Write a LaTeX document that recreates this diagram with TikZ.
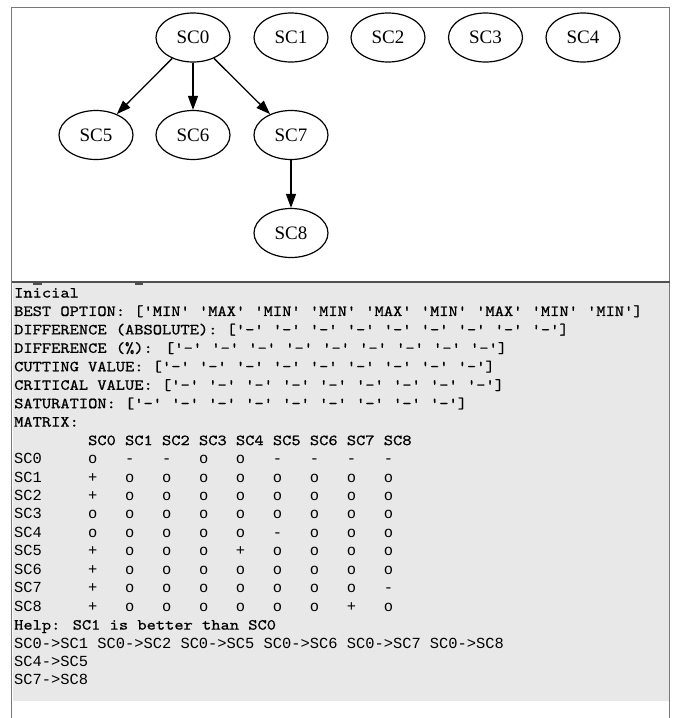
\documentclass[tikz,border=0pt]{standalone}
\usepackage{fontspec}
\setmainfont{Liberation Serif}
\setmonofont{Liberation Mono}
\newfontfamily\slabmono{lmmono10-regular}[Extension=.otf, FakeStretch=1.143, FakeBold=0.8]
\usetikzlibrary{shapes.geometric,arrows.meta}

\definecolor{panelgrey}{RGB}{232,232,232}
\definecolor{framegrey}{RGB}{120,120,120}
\definecolor{rulegrey}{RGB}{80,80,80}

\tikzset{
  sc/.style={ellipse, draw=black, line width=1.2pt, minimum width=74pt,
    minimum height=49pt, inner sep=0pt,
    font=\fontsize{19}{22}\selectfont},
  edge/.style={line width=1.3pt, -{Triangle[length=14pt,width=10pt]}},
  txt/.style={anchor=base west, inner sep=0pt, text=black,
    font=\slabmono\fontsize{15.4}{18.45}\selectfont},
  rowtxt/.style={txt, font=\ttfamily\fontsize{15.4}{18.45}\selectfont},
}

\begin{document}
\begin{tikzpicture}[x=1pt,y=-1pt]
\useasboundingbox (0,0) rectangle (675,718);
\fill[white] (0,0) rectangle (675,718);

% console panel
\fill[panelgrey] (12.5,282.5) rectangle (669,700.5);
\fill[rulegrey] (33,282.6) rectangle (42,284.6);
\fill[rulegrey] (135,282.6) rectangle (143,284.6);

% window frame
\draw[framegrey, line width=1.8pt] (11.5,718) -- (11.5,7.5) -- (669.5,7.5) -- (669.5,718);
\draw[rulegrey, line width=1.5pt] (11.5,282) -- (669.5,282);

% graph
\node[sc] (sc0) at (193,37.5) {SC0};
\node[sc] (sc1) at (291,37.5) {SC1};
\node[sc] (sc2) at (388,37.5) {SC2};
\node[sc] (sc3) at (485.5,37.5) {SC3};
\node[sc] (sc4) at (583,37.5) {SC4};
\node[sc] (sc5) at (96,135) {SC5};
\node[sc] (sc6) at (193,135) {SC6};
\node[sc] (sc7) at (291,135) {SC7};
\node[sc] (sc8) at (291,233) {SC8};

\draw[edge] (sc0) -- (sc5);
\draw[edge] (sc0) -- (sc6);
\draw[edge] (sc0) -- (sc7);
\draw[edge] (sc7) -- (sc8);

% console output
\node[txt] (l0) at (14,297.5) {Inicial};
\node[txt] (l1) at (14,315.95) {BEST OPTION: ['MIN' 'MAX' 'MIN' 'MIN' 'MAX' 'MIN' 'MAX' 'MIN' 'MIN']};
\node[txt] (l2) at (14,334.4) {DIFFERENCE (ABSOLUTE): ['-' '-' '-' '-' '-' '-' '-' '-' '-']};
\node[txt] (l3) at (14,352.85) {DIFFERENCE (\%): ['-' '-' '-' '-' '-' '-' '-' '-' '-']};
\node[txt] (l4) at (14,371.3) {CUTTING VALUE: ['-' '-' '-' '-' '-' '-' '-' '-' '-']};
\node[txt] (l5) at (14,389.75) {CRITICAL VALUE: ['-' '-' '-' '-' '-' '-' '-' '-' '-']};
\node[txt] (l6) at (14,408.2) {SATURATION: ['-' '-' '-' '-' '-' '-' '-' '-' '-']};
\node[txt] (l7) at (14,426.65) {MATRIX:};
\node[txt] (l8) at (14,445.1) {~~~~~~~~SC0 SC1 SC2 SC3 SC4 SC5 SC6 SC7 SC8};
\node[rowtxt] (l9) at (14,463.55) {SC0~~~~~o~~~-~~~-~~~o~~~o~~~-~~~-~~~-~~~-};
\node[rowtxt] (l10) at (14,482.0) {SC1~~~~~+~~~o~~~o~~~o~~~o~~~o~~~o~~~o~~~o};
\node[rowtxt] (l11) at (14,500.45) {SC2~~~~~+~~~o~~~o~~~o~~~o~~~o~~~o~~~o~~~o};
\node[rowtxt] (l12) at (14,518.9) {SC3~~~~~o~~~o~~~o~~~o~~~o~~~o~~~o~~~o~~~o};
\node[rowtxt] (l13) at (14,537.35) {SC4~~~~~o~~~o~~~o~~~o~~~o~~~-~~~o~~~o~~~o};
\node[rowtxt] (l14) at (14,555.8) {SC5~~~~~+~~~o~~~o~~~o~~~+~~~o~~~o~~~o~~~o};
\node[rowtxt] (l15) at (14,574.25) {SC6~~~~~+~~~o~~~o~~~o~~~o~~~o~~~o~~~o~~~o};
\node[rowtxt] (l16) at (14,592.7) {SC7~~~~~+~~~o~~~o~~~o~~~o~~~o~~~o~~~o~~~-};
\node[rowtxt] (l17) at (14,611.15) {SC8~~~~~+~~~o~~~o~~~o~~~o~~~o~~~o~~~+~~~o};
\node[txt] (l18) at (14,629.6) {Help: SC1 is better than SC0};
\node[rowtxt] (l19) at (14,648.05) {SC0->SC1 SC0->SC2 SC0->SC5 SC0->SC6 SC0->SC7 SC0->SC8};
\node[rowtxt] (l20) at (14,666.5) {SC4->SC5};
\node[rowtxt] (l21) at (14,684.95) {SC7->SC8};
\end{tikzpicture}
\end{document}
